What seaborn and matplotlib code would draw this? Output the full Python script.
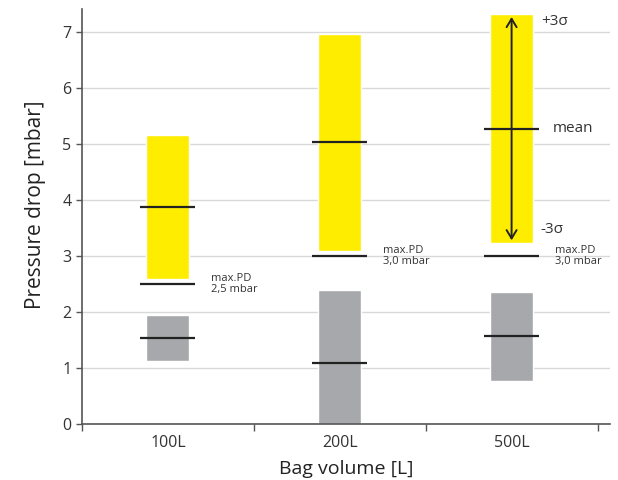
import numpy as np
import pandas as pd
import seaborn as sns
import matplotlib.pyplot as plt

# --- data ---
volumes = ["100L", "200L", "500L"]
yellow_low = [2.59, 3.09, 3.23]
yellow_high = [5.15, 6.95, 7.31]
yellow_mean = [3.88, 5.03, 5.27]
max_pd = [2.5, 3.0, 3.0]
max_pd_labels = ["max.PD\n2,5 mbar", "max.PD\n3,0 mbar", "max.PD\n3,0 mbar"]
gray_low = [1.12, 0.0, 0.78]
gray_high = [1.95, 2.39, 2.36]
gray_mean = [1.54, 1.10, 1.57]

sns.set_theme(style="white")
plt.rcParams["font.family"] = ["Open Sans", "DejaVu Sans"]

YELLOW = "#FFED00"
GRAY = "#A7A8AB"
DARK = "#222222"

fig = plt.figure(figsize=(6.18, 4.8), dpi=100)
ax = fig.add_axes([0.1327, 0.116, 0.855, 0.865])

df_y = pd.DataFrame({"vol": volumes, "span": np.subtract(yellow_high, yellow_low)})
df_g = pd.DataFrame({"vol": volumes, "span": np.subtract(gray_high, gray_low)})

sns.barplot(data=df_y, x="vol", y="span", color=YELLOW, saturation=1, width=0.25, ax=ax, zorder=2)
for p, b in zip(ax.patches[:3], yellow_low):
    p.set_y(b)
n = len(ax.patches)
sns.barplot(data=df_g, x="vol", y="span", color=GRAY, saturation=1, width=0.25, ax=ax, zorder=2)
for p, b in zip(ax.patches[n:], gray_low):
    p.set_y(b)

pos = np.arange(len(volumes))
hw = 0.16
ax.hlines(yellow_mean, pos - hw, pos + hw, color=DARK, lw=1.6, zorder=3)
ax.hlines(gray_mean, pos - hw, pos + hw, color=DARK, lw=1.6, zorder=3)
ax.hlines(max_pd, pos - hw, pos + hw, color=DARK, lw=1.6, zorder=3)

for x, y, t in zip(pos, max_pd, max_pd_labels):
    ax.text(x + 0.25, y + 0.19, t, fontsize=8, color="#333333", va="top", ha="left", linespacing=0.9)

# sigma arrow on the last column
ax.annotate("", xy=(pos[2], yellow_low[2]), xytext=(pos[2], yellow_high[2]),
            arrowprops=dict(arrowstyle="<->,head_length=0.5,head_width=0.3", color=DARK, lw=1.4,
                            shrinkA=2, shrinkB=2), zorder=4)
ax.text(pos[2] + 0.17, yellow_high[2] - 0.13, "+3σ", fontsize=11, color="#333333", va="center")
ax.text(pos[2] + 0.24, yellow_mean[2], "mean", fontsize=11, color="#333333", va="center")
ax.text(pos[2] + 0.17, yellow_low[2] + 0.25, "-3σ", fontsize=11, color="#333333", va="center")

ax.set_ylim(0, 7.4)
ax.set_xlim(-0.5, 2.575)
ax.set_yticks(range(0, 8))
ax.yaxis.grid(True, color="#D9D9D9", lw=1)
ax.set_axisbelow(True)

ax.set_xticks(pos)
ax.set_xticklabels(volumes)
ax.set_xticks([-0.5, 0.5, 1.5, 2.5], minor=True)
ax.tick_params(axis="x", which="major", length=0, labelsize=11.5, colors="#333333", pad=8)
ax.tick_params(axis="x", which="minor", length=5, width=1, color="#555555", direction="out", bottom=True)
ax.tick_params(axis="y", length=4, width=1, color="#555555", left=True, labelsize=11.5, labelcolor="#333333")

for s in ["top", "right"]:
    ax.spines[s].set_visible(False)
for s in ["left", "bottom"]:
    ax.spines[s].set_color("#555555")
    ax.spines[s].set_linewidth(1.2)

ax.set_xlabel("Bag volume [L]", fontsize=14, color="#222222", labelpad=6)
ax.set_ylabel("Pressure drop [mbar]", fontsize=15, color="#222222")
ax.yaxis.set_label_coords(-0.068, 0.53)

fig.savefig("out.png", dpi=100)
